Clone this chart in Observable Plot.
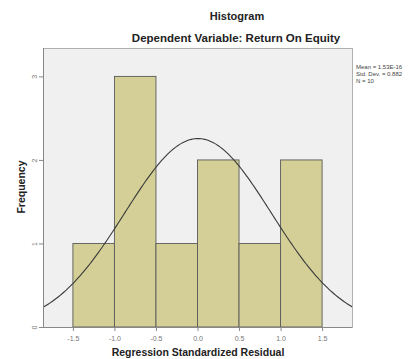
<!DOCTYPE html>
<html><head><meta charset="utf-8">
<script src="https://cdn.jsdelivr.net/npm/d3@7"></script>
<script src="https://cdn.jsdelivr.net/npm/@observablehq/plot@0.6"></script>
<style>
body{margin:0;background:#fff;font-family:"Liberation Sans",Arial,sans-serif;}
#wrap{position:relative;width:418px;height:359px;overflow:hidden;}
.t{position:absolute;font-weight:bold;color:#222;white-space:nowrap;}
</style></head><body><div id="wrap"></div>
<script>
const binStarts = [-1.5, -1.0, -0.5, 0.0, 0.5, 1.0];
const binWidth = 0.5;
const counts = [1, 3, 1, 2, 1, 2];
const xTicks = [-1.5, -1.0, -0.5, 0.0, 0.5, 1.0, 1.5];
const yTicks = [0, 1, 2, 3];
const statMean = 1.53e-16, statSD = 0.882, statN = 10;
const statLines = ["Mean = 1.53E-16", "Std. Dev. = 0.882", "N = 10"];

const bins = binStarts.map((x, i) => ({x1: x, x2: x + binWidth, y: counts[i]}));
const xs = d3.range(-1.86, 1.8601, 0.02);
const curve = xs.map(x => ({x, y: statN * binWidth / (statSD * Math.sqrt(2 * Math.PI)) * Math.exp(-0.5 * ((x - statMean) / statSD) ** 2)}));

const chart = Plot.plot({
  width: 418, height: 359,
  marginLeft: 43, marginRight: 66, marginTop: 48, marginBottom: 32,
  style: {fontFamily: "Liberation Sans, Arial, sans-serif", background: "transparent"},
  x: {domain: [-1.86, 1.86], label: null},
  y: {domain: [0, 3.34], label: null},
  marks: [
    Plot.frame({fill: "#f0f0f0", stroke: "#b0b0b0"}),
    Plot.rectY(bins, {x1: "x1", x2: "x2", y: "y", fill: "#d3cf97", stroke: "#5a5a5a", strokeWidth: 0.9}),
    Plot.line(curve, {x: "x", y: "y", stroke: "#3a3a3a", strokeWidth: 1.1, clip: true}),
    Plot.ruleX([-1.86], {stroke: "#888"}),
    Plot.ruleY([0], {stroke: "#888"}),
    Plot.axisX({ticks: xTicks, tickFormat: d => d.toFixed(1), tickSize: 4, fontSize: 7, color: "#777", stroke: "#888", label: null}),
    Plot.axisY({ticks: yTicks, tickFormat: d => String(d), tickSize: 4, fontSize: 7, color: "#777", stroke: "#888", tickRotate: -90, tickPadding: 3, label: null})
  ]
});
const wrap = document.getElementById("wrap");
wrap.appendChild(chart);
function addText(txt, css){const d=document.createElement("div");d.className="t";d.textContent=txt;Object.assign(d.style,css);wrap.appendChild(d);}
addText("Histogram", {left:"237px", top:"10px", fontSize:"11px", transform:"translateX(-50%)"});
addText("Dependent Variable: Return On Equity", {left:"236px", top:"32px", fontSize:"11.5px", transform:"translateX(-50%)"});
addText("Regression Standardized Residual", {left:"198px", top:"346px", fontSize:"10.5px", transform:"translateX(-50%)"});
addText("Frequency", {left:"21px", top:"187px", fontSize:"10.5px", transform:"translate(-50%,-50%) rotate(-90deg)"});
statLines.forEach((s,i)=>addText(s,{left:"356px", top:(64+i*7)+"px", fontSize:"6px", fontWeight:"normal", color:"#444"}));
</script></body></html>
